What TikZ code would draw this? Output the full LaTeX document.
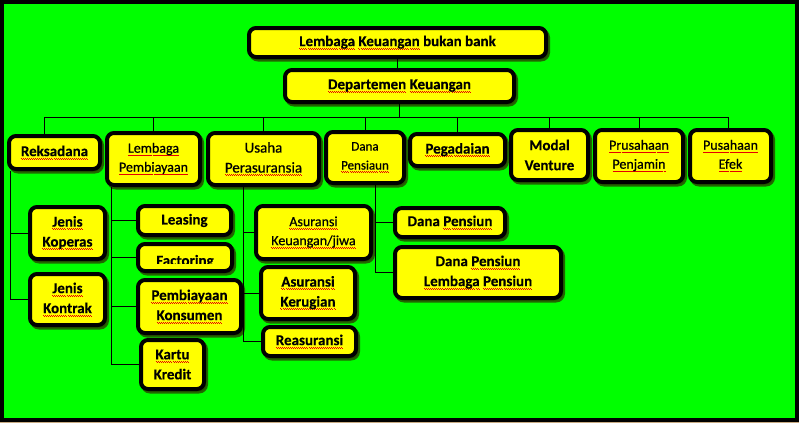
\documentclass[tikz,border=0pt]{standalone}
\usepackage{fontspec}
\setmainfont{Carlito}[BoldFeatures={FakeBold=0.25}]
\newfontfamily\medfont{Carlito}[FakeBold=0.6]
\usetikzlibrary{shadows}
\definecolor{bg}{RGB}{0,255,0}
\definecolor{bxfill}{RGB}{255,255,0}
\definecolor{shcol}{RGB}{40,75,0}
\definecolor{tanline}{RGB}{200,170,130}
\definecolor{sqred}{RGB}{230,0,0}
\newcommand\sqwave{\hbox{\raisebox{-2.4pt}{\rule{1pt}{0.55pt}}\raisebox{-3.3pt}{\rule{1pt}{0.55pt}}}}
\newcommand\sq[1]{\leavevmode\setbox0=\hbox{#1}\rlap{\textcolor{sqred}{\hbox to \wd0{\xleaders\sqwave\hfill}}}\box0\relax}
\newcommand\bx[7]{\node[box,#6,minimum width={#4-#2-4},minimum height={#5-#3-4}] (#1) at ({(#2+#4)/2},{(#3+#5)/2}) {#7};}
\begin{document}
\begin{tikzpicture}[x=1pt,y=-1pt,
  box/.style={draw=black,line width=4pt,rounded corners=7pt,fill=bxfill,inner sep=1pt,align=center,
    drop shadow={shadow xshift=2pt,shadow yshift=-2.5pt,fill=shcol,draw=shcol,line width=4pt,opacity=0.85}},
  conn/.style={draw=black,line width=0.9pt},
  b15/.style={font=\bfseries\fontsize{15}{20}\selectfont},
  r15/.style={font=\medfont\fontsize{15}{20}\selectfont},
  r14/.style={font=\medfont\fontsize{14}{19}\selectfont},
  r13/.style={font=\medfont\fontsize{13}{19}\selectfont}]
\useasboundingbox (0,0) rectangle (799,423);
\fill[black] (0,0) rectangle (799,422);
\fill[tanline] (0,422) rectangle (799,423);
\fill[bg] (3.5,4) rectangle (795,417.5);

\bx{top}{247}{26}{548}{59}{b15}{\sq{Lembaga} \sq{Keuangan} bukan bank}
\bx{dept}{283}{68}{516}{104}{b15}{\sq{Departemen} \sq{Keuangan}}
\bx{reks}{7}{134}{102}{171}{b15}{\sq{Reksadana}}
\bx{lp}{105}{131}{202}{187}{r14}{\sq{Lembaga}\\\sq{Pembiayaan}}
\bx{us}{206}{131}{321}{187}{r15}{Usaha\\\sq{Perasuransia}}
\bx{dp}{324}{130}{406}{185}{r13}{Dana\\\sq{Pensiaun}}
\bx{peg}{408}{132}{507}{168}{b15}{\sq{Pegadaian}}
\bx{mv}{509}{128}{590}{182}{b15}{Modal\\Venture}
\bx{pp}{593}{128}{685}{184}{r14}{\sq{Prusahaan}\\\sq{Penjamin}}
\bx{pe}{688}{128}{773}{184}{r14}{\sq{Pusahaan}\\\sq{Efek}}
\bx{jk1}{28}{205}{107}{261}{b15}{\sq{Jenis}\\\sq{Koperas}}
\bx{jk2}{28}{272}{107}{327}{b15}{\sq{Jenis}\\\sq{Kontrak}}
\bx{lea}{136}{204}{233}{237}{b15}{Leasing}
\bx{fac}{136}{242}{234}{273}{b15}{}
\begin{scope}
\clip (138,244) rectangle (232,263);
\node[b15,anchor=base,inner sep=0pt] (factxt) at (185,265.5) {Factoring};
\end{scope}
\bx{pk}{136}{278}{243}{335}{b15}{\sq{Pembiayaan}\\\sq{Konsumen}}
\bx{kk}{139}{338}{206}{391}{b15}{\sq{Kartu}\\Kredit}
\bx{ak}{254}{204}{373}{261}{r14}{\sq{Asuransi}\\\sq{Keuangan/jiwa}}
\bx{akr}{259}{265}{357}{321}{b15}{\sq{Asuransi}\\\sq{Kerugian}}
\bx{reas}{261}{325}{358}{358}{b15}{\sq{Reasuransi}}
\bx{dpn}{393}{206}{507}{239}{b15}{Dana \sq{Pensiun}}
\bx{dplp}{393}{245}{563}{300}{b15}{Dana \sq{Pensiun}\\\sq{Lembaga} \sq{Pensiun}}

% connectors
\draw[conn] (top.south) -- (top.south |- dept.north);
\coordinate (busL) at (44,117);
\coordinate (busR) at (728,117);
\draw[conn] (dept.south) -- (dept.south |- busL);
\draw[conn] (busL) -- (busR);
\draw[conn] (busL) -- (busL |- reks.north);
\draw[conn] (lp.north |- busL) -- (lp.north);
\draw[conn] (us.north |- busL) -- (us.north);
\draw[conn] (dp.north |- busL) -- (dp.north);
\draw[conn] (peg.north |- busL) -- (peg.north);
\draw[conn] (mv.north |- busL) -- (mv.north);
\draw[conn] (pp.north |- busL) -- (pp.north);
\draw[conn] (busR) -- (busR |- pe.north);

\draw[conn] ([xshift=3pt]reks.south west) |- (jk1.west);
\draw[conn] ([xshift=3pt]reks.south west) |- (jk2.west);
\draw[conn] ([xshift=6pt]lp.south west) |- (lea.west);
\draw[conn] ([xshift=6pt]lp.south west) |- (fac.west);
\draw[conn] ([xshift=6pt]lp.south west) |- (pk.west);
\draw[conn] ([xshift=6pt]lp.south west) |- (kk.west);
\draw[conn] ([xshift=37pt]us.south west) |- (ak.west);
\draw[conn] ([xshift=37pt]us.south west) |- (akr.west);
\draw[conn] ([xshift=37pt]us.south west) |- (reas.west);
\draw[conn] ([xshift=51pt]dp.south west) |- (dpn.west);
\draw[conn] ([xshift=51pt]dp.south west) |- (dplp.west);
\end{tikzpicture}
\end{document}
